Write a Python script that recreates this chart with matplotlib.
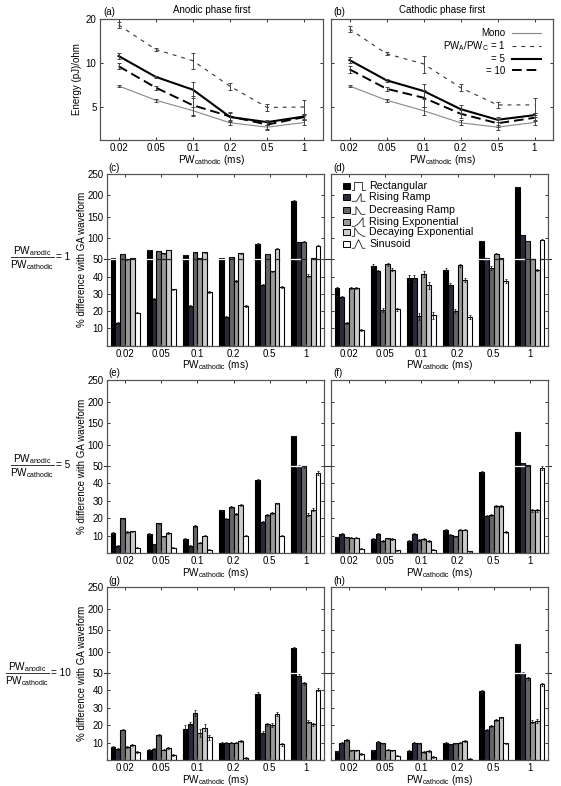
import matplotlib
matplotlib.use("Agg")
import matplotlib.pyplot as plt
import numpy as np

plt.rcParams['font.family'] = ['Liberation Sans', 'DejaVu Sans']
plt.rcParams['mathtext.default'] = 'regular'
plt.rcParams['font.size'] = 7

W, H = 561, 786
pw = ['0.02', '0.05', '0.1', '0.2', '0.5', '1']
pos = np.arange(1, 7)

# energy (a)
mono_a = [7.0, 5.6, 4.75, 3.93, 3.67, 3.95]
one_a = [18.2, 12.4, 10.4, 6.96, 5.0, 5.03]
five_a = [11.2, 8.07, 6.6, 4.3, 3.97, 4.34]
ten_a = [9.54, 6.82, 5.17, 4.34, 3.82, 4.3]
# energy (b)
mono_b = [7.0, 5.6, 4.75, 3.93, 3.67, 3.95]
one_b = [17.1, 11.6, 9.9, 6.82, 5.2, 5.2]
five_b = [10.5, 7.65, 6.47, 4.87, 4.12, 4.43]
ten_b = [9.09, 6.7, 5.82, 4.53, 3.9, 4.25]
mono_err = [0.15, 0.15, 0.3, 0.15, 0.15, 0.15]
one_err = [0.8, 0.3, 1.3, 0.4, 0.25, 0.6]
five_err = [0.5, 0.15, 0.8, 0.3, 0.15, 0.15]
ten_err = [0.45, 0.2, 0.8, 0.3, 0.25, 0.2]

wave_names = ['Rectangular', 'Rising Ramp', 'Decreasing Ramp', 'Rising Exponential',
              'Decaying Exponential', 'Sinusoid']
wave_colors = ['#000000', '#2a2a3c', '#666666', '#999999', '#cccccc', '#ffffff']

# % difference, rows are waveforms, columns are PW cathodic
c_vals = [[53, 71, 60, 52, 87, 187],
          [13, 27, 23, 16.5, 35, 90],
          [63, 70, 66, 56, 62, 91],
          [50, 64, 52, 37.5, 43, 40.5],
          [53, 72, 66, 64, 75, 53],
          [19, 32.5, 31, 23, 34, 82]]
d_vals = [[33.5, 46, 39, 44, 93, 220],
          [28, 43, 39, 35, 52, 107],
          [13, 20.5, 17, 20, 45, 93],
          [33.5, 47, 41.5, 46.5, 63, 51],
          [33.5, 44, 35, 38, 52, 44],
          [9, 21, 17.5, 16.5, 37.5, 96]]
e_vals = [[11.5, 11, 8, 24.5, 42, 120],
          [4, 5, 4, 19.5, 18, 51],
          [20, 17, 15.5, 26.5, 22, 50],
          [12, 9.5, 6, 22.5, 23, 22],
          [12.5, 11.5, 10, 27.5, 28.5, 25],
          [3, 3, 2, 10, 10, 46]]
f_vals = [[9, 8, 7, 13.5, 46.5, 128],
          [11, 11, 11, 10.5, 21.5, 57],
          [9, 7, 7.5, 9.5, 22, 52],
          [8.8, 8.5, 8, 13.5, 27, 24.5],
          [8.8, 8, 7, 13.5, 27, 24.5],
          [2.5, 1.5, 2, 1, 12, 49]]
g_vals = [[7.5, 6, 18, 10, 38, 109],
          [6.5, 6.5, 20.5, 10, 15.5, 48.5],
          [17.5, 14.5, 27, 10, 20.5, 44],
          [7.5, 6, 15.5, 10, 20, 22],
          [8.5, 7, 18.5, 11, 26.5, 20.5],
          [4.5, 2.7, 13, 1, 9, 40.5]]
h_vals = [[5, 5.5, 5, 10, 39.5, 117],
          [10, 10.5, 10, 9, 17.5, 50.5],
          [11.5, 9.5, 9.5, 9.5, 19.5, 47],
          [5.5, 6, 4.7, 10, 23, 22],
          [5.5, 5.5, 5, 11, 24.5, 22.5],
          [3.5, 2.5, 1.8, 0.7, 9.5, 43.5]]

small_err = [0.4, 0.4, 0.5, 0.4, 0.5, 1.0]
g_err_01 = [2, 1.5, 1.5, 2.5, 2, 1.5]
d_err_mid = [0.5, 1, 2, 1, 1, 0.5]

fig = plt.figure(figsize=(W / 100, H / 100), dpi=100)


def make_ax(x0, x1, y0, y1):
    return fig.add_axes([x0 / W, 1 - y1 / H, (x1 - x0) / W, (y1 - y0) / H])


def forward(v):
    v = np.asarray(v, dtype=float)
    return np.where(v <= 50, v, 50 + (v - 50) * 0.2474)


def inverse(v):
    v = np.asarray(v, dtype=float)
    return np.where(v <= 50, v, 50 + (v - 50) / 0.2474)


def style(ax):
    for s in ax.spines.values():
        s.set_color('#555555')
        s.set_linewidth(0.9)
    ax.tick_params(direction='in', length=2, width=0.7, color='#333333', top=True, right=True,
                   pad=2.5, labelsize=7, which='both')
    ax.set_xlim(0.5, 6.5)
    ax.set_xticks(pos)
    ax.set_xticklabels(pw)


def energy_panel(ax, mono, one, five, ten):
    ax.set_yscale('log')
    ax.plot(pos, mono, color='#888888', lw=0.8, label='Mono')
    ax.plot(pos, one, color='#333333', lw=0.8, ls=(0, (3.5, 4.5)), label='PW$_A$/PW$_C$ = 1')
    ax.plot(pos, five, color='black', lw=1.5, label='= 5')
    ax.plot(pos, ten, color='black', lw=1.4, ls=(0, (5, 2.5)), label='= 10')
    for vals, err in [(mono, mono_err), (one, one_err), (five, five_err), (ten, ten_err)]:
        ax.errorbar(pos, vals, yerr=err, fmt='none', ecolor='#444444', elinewidth=0.7,
                    capsize=1.5, capthick=0.7)
    ax.set_ylim(3, 20)
    ax.set_yticks([5, 10, 20])
    ax.set_yticklabels(['5', '10', '20'])
    ax.yaxis.set_minor_locator(plt.NullLocator())
    style(ax)
    ax.set_xlabel('PW$_{cathodic}$ (ms)', labelpad=-0.5, fontsize=7.2)


def bar_panel(ax, vals, errs):
    ax.set_yscale('function', functions=(forward, inverse))
    w = 0.133
    for i in range(6):
        x = pos + (i - 2.5) * w
        ax.bar(x, vals[i], w, color=wave_colors[i], edgecolor='black', linewidth=0.8,
               yerr=errs[i], ecolor='#222222', error_kw=dict(elinewidth=0.6, capsize=1, capthick=0.6))
        for xx, v in zip(x, vals[i]):
            if v > 50:
                ax.plot([xx - w / 2, xx + w / 2], [50, 50], color='white' if i < 2 else '#222222', lw=0.9)
    ax.set_ylim(0, 250)
    ax.set_yticks([10, 20, 30, 40, 50, 100, 150, 200, 250])
    style(ax)
    tr = ax.get_yaxis_transform()
    ax.plot([-0.015, 0], [50, 50], color='#333333', lw=0.8, transform=tr, clip_on=False)
    ax.plot([1, 1.015], [50, 50], color='#333333', lw=0.8, transform=tr, clip_on=False)


def draw_legend(ax):
    rows = [0.930, 0.866, 0.790, 0.720, 0.662, 0.592]
    icons = [([0, .15, .15, .75, .75, 1], [0, 0, 1, 1, 0, 0]),
             ([0, .35, .7, .7, 1], [0, 0, .9, 0, 0]),
             ([0, .3, .3, .7, 1], [0, 0, .9, 0, 0]),
             ([0, .2, .5, .85, .85, 1], [0, 0, .3, 1, 0, 0]),
             ([0, .2, .2, .5, .85, 1], [0, 0, 1, .35, 0, 0]),
             ([0, .2, .4, .5, .6, .8, 1], [0, 0, .7, 1, .7, 0, 0])]
    for i in range(6):
        y = rows[i]
        ax.add_patch(plt.Rectangle((0.055, y - 0.02), 0.033, 0.04, transform=ax.transAxes,
                                   facecolor=wave_colors[i], edgecolor='black', lw=0.7))
        xs = 0.097 + np.array(icons[i][0]) * 0.06
        ys = y - 0.025 + np.array(icons[i][1]) * 0.05
        ax.plot(xs, ys, color='#222222', lw=0.6, transform=ax.transAxes)
        ax.text(0.175, y, wave_names[i], transform=ax.transAxes, va='center', fontsize=7.7)


ax_a = make_ax(100, 323, 19, 140)
ax_b = make_ax(331, 553, 19, 140)
energy_panel(ax_a, mono_a, one_a, five_a, ten_a)
energy_panel(ax_b, mono_b, one_b, five_b, ten_b)
ax_b.set_yticklabels([])
ax_a.set_ylabel('Energy (pJ)/ohm', labelpad=3, fontsize=7)
ax_a.set_title('Anodic phase first', fontsize=7, pad=4)
ax_b.set_title('Cathodic phase first', fontsize=7, pad=4)
ax_b.legend(loc='upper right', bbox_to_anchor=(1, 1.02), frameon=False, markerfirst=False, fontsize=7,
            labelspacing=0.12, handlelength=3.0, handletextpad=0.7, borderaxespad=0.8)

axes_c = make_ax(107, 324, 174, 345.5)
axes_d = make_ax(331, 548, 174, 345.5)
axes_e = make_ax(107, 324, 380, 553)
axes_f = make_ax(331, 548, 380, 553)
axes_g = make_ax(107, 324, 587, 760)
axes_h = make_ax(331, 548, 587, 760)

bar_panel(axes_c, c_vals, [small_err] * 6)
bar_panel(axes_d, d_vals, [d_err_mid] * 6)
bar_panel(axes_e, e_vals, [small_err] * 6)
bar_panel(axes_f, f_vals, [small_err] * 6)
bar_panel(axes_g, g_vals, [[0.5, 0.5, g_err_01[k], 0.5, 1, 1] for k in range(6)])
bar_panel(axes_h, h_vals, [small_err] * 6)
draw_legend(axes_d)

for ax in [axes_d, axes_f, axes_h]:
    ax.set_yticklabels([])
for ax in [axes_c, axes_e, axes_g]:
    ax.set_ylabel('% difference with GA waveform', labelpad=0, fontsize=7)
for ax in [axes_c, axes_d, axes_e, axes_f, axes_g, axes_h]:
    ax.set_xlabel('PW$_{cathodic}$ (ms)', labelpad=-0.5, fontsize=7.2)

# panel letters
for lab, x, y in [('(a)', 103, 12), ('(b)', 333, 12), ('(c)', 108, 168), ('(d)', 333, 168),
                  ('(e)', 108, 373), ('(f)', 333, 373), ('(g)', 108, 581), ('(h)', 333, 581)]:
    fig.text(x / W, 1 - y / H, lab, fontsize=7, va='center')

# PW ratio labels on the left
for ratio, ymid, x0, x1 in [('= 1', 257, 11, 54), ('= 5', 465, 11, 54), ('= 10', 673, 6, 49)]:
    xm = (x0 + x1) / 2
    fig.text(xm / W, 1 - (ymid - 6) / H, 'PW$_{anodic}$', ha='center', va='center', fontsize=7.2)
    fig.text(xm / W, 1 - (ymid + 8) / H, 'PW$_{cathodic}$', ha='center', va='center', fontsize=7.2)
    fig.add_artist(plt.Line2D([x0 / W, x1 / W], [1 - ymid / H, 1 - ymid / H], color='#333333', lw=0.7))
    fig.text((x1 + 2) / W, 1 - ymid / H, ratio, va='center', fontsize=7.2)

fig.savefig('out.png', dpi=100)
